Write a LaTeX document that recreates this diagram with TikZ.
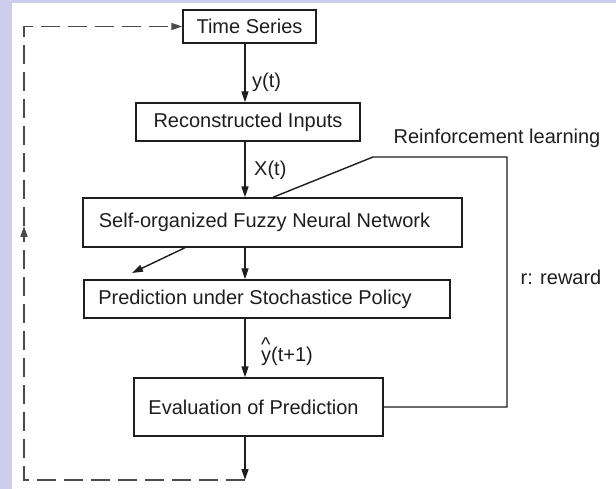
\documentclass[tikz,border=0pt]{standalone}
\usepackage{fontspec}
\setmainfont{Liberation Sans}
\usetikzlibrary{arrows.meta}
\definecolor{lav}{RGB}{206,206,236}
\definecolor{ink}{RGB}{30,30,30}
\begin{document}
\begin{tikzpicture}[x=1pt,y=-1pt,
  box/.style={draw=ink, line width=1.4pt, fill=white, text=ink, inner sep=0pt, font=\fontsize{20}{24}\selectfont},
  lbl/.style={text=ink, inner sep=0pt, font=\fontsize{20}{24}\selectfont},
  arr/.style={draw=ink, line width=1.4pt, -{Triangle[length=11pt,width=7pt]}},
  ln/.style={draw=ink, line width=1.4pt},
  dsh/.style={draw=ink!80, line width=1.4pt, dash pattern=on 19pt off 8pt}]
\fill[lav] (0,0) rectangle (616,489);
\fill[white] (12,3) rectangle (616,489);
\useasboundingbox (0,0) rectangle (616,489);

\node[box, minimum width=133pt, minimum height=33pt] (ts) at (249.5,26.5) {Time Series};
\node[box, minimum width=224pt, minimum height=38pt] (ri) at (248,122) {Reconstructed Inputs};
\node[box, minimum width=379pt, minimum height=49pt] (sf) at (272.5,222.5) {\hspace*{-16pt}Self-organized Fuzzy Neural Network};
\node[box, minimum width=366pt, minimum height=38pt] (pp) at (267,299) {\hspace*{-24pt}Prediction under Stochastice Policy};
\node[box, minimum width=249pt, minimum height=58pt] (ev) at (258.5,407) {\hspace*{-10pt}Evaluation of Prediction};

\node[lbl, anchor=west] (ly) at (252,82) {y(t)};
\node[lbl, anchor=west] (lx) at (254,170) {X(t)};
\node[lbl, anchor=west] (lyh) at (261,352) {\rlap{\raisebox{10pt}{\^{}}}y(t+1)};
\node[lbl] (lrl) at (497,138) {Reinforcement learning};
\node[lbl] (lrw) at (561,277) {r: reward};

\coordinate (col) at (245,0);
\coordinate (dx) at (273,0);
\coordinate (dd) at (185,0);
\coordinate (dtip) at (132,273);
\coordinate (bot) at (245,480);
\coordinate (bl) at (24,480);
\coordinate (lm) at (24,226);
\coordinate (tl) at (24,26.5);
\coordinate (rb) at (507,407);
\coordinate (rt) at (507,157);
\coordinate (kn) at (373,157);

\draw[arr] (ts.south -| col) -- (ri.north -| col);
\draw[arr] (ri.south -| col) -- (sf.north -| col);
\draw[arr] (sf.south -| col) -- (pp.north -| col);
\draw[arr] (pp.south -| col) -- (ev.north -| col);
\draw[arr] (ev.south -| col) -- (bot);
\draw[arr] (sf.south -| dd) -- (dtip);
\draw[ln] (ev.east) -- (rb) -- (rt) -- (kn) -- (sf.north -| dx);

\draw[dsh, -{Triangle[length=11pt,width=7pt]}] (bot) -- (bl) -- (lm);
\draw[dsh, -{Triangle[length=11pt,width=7pt]}] (lm) -- (tl) -- (ts.west);
\end{tikzpicture}
\end{document}
